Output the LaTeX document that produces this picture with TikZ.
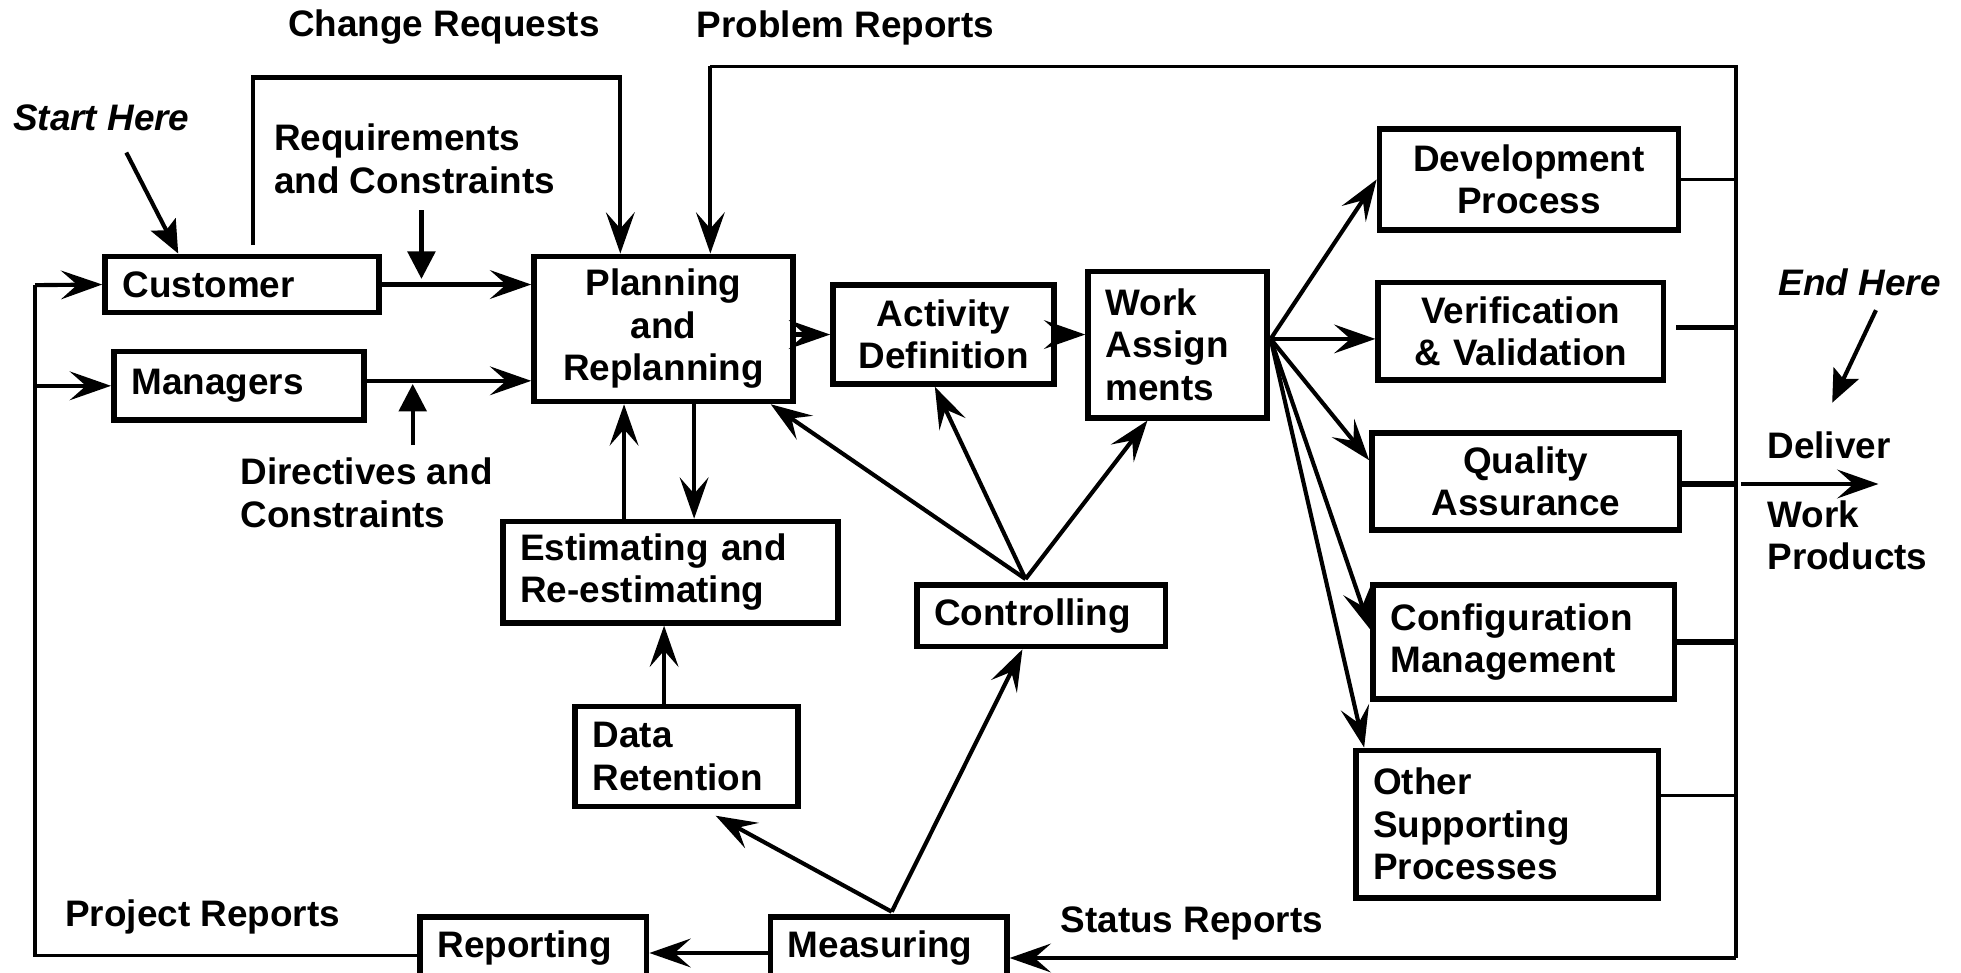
\documentclass[tikz,border=0pt]{standalone}
\usepackage{fontspec}
\setmainfont{Liberation Sans}
\usetikzlibrary{arrows.meta}
\begin{document}
\begin{tikzpicture}[x=1pt,y=-1pt,
  txt/.style={font=\bfseries\fontsize{29.5}{34}\selectfont},
  box/.style={txt, draw, line width=4.5pt, inner sep=0pt, fill=white},
  lbl/.style={txt, inner sep=0pt, align=left},
  conn/.style={line width=3.3pt},
  bus/.style={line width=2.6pt},
  arr/.style={conn, -{Stealth[length=33pt,width=23pt,inset=13pt]}},
  sarr/.style={conn, -{Stealth[length=26pt,width=22pt,inset=5pt]}},
  tarr/.style={conn, -{Triangle[length=22pt,width=22pt]}},
]
\useasboundingbox (0,0) rectangle (1568,778);
\fill[white] (0,0) rectangle (1568,778);

% boxes
\node[box, minimum width=219pt, minimum height=45pt, text width=191pt, align=left] (cust) at (193.5,227.5) {Customer};
\node[box, minimum width=200pt, minimum height=55pt, text width=172pt, align=left] (mgr) at (191,308.5) {Managers};
\node[box, minimum width=207pt, minimum height=116pt, text width=207pt, align=center] (plan) at (530.5,263) {Planning\\and\\Replanning};
\node[box, minimum width=177pt, minimum height=79pt, text width=177pt, align=center] (act) at (754.5,267.5) {Activity\\Definition};
\node[box, minimum width=143pt, minimum height=117pt, text width=115pt, align=left] (work) at (941.5,275.5) {Work\\Assign\\ments};
\node[box, minimum width=268pt, minimum height=81pt, text width=240pt, align=left] (est) at (536,457.5) {Estimating and\\Re-estimating};
\node[box, minimum width=178pt, minimum height=80pt, text width=150pt, align=left] (dat) at (549,605) {Data\\Retention};
\node[box, minimum width=199pt, minimum height=49pt, text width=171pt, align=left] (ctl) at (832.5,492.5) {Controlling};
\node[box, minimum width=181pt, minimum height=50pt, text width=153pt, align=left] (rep) at (426.5,758) {Reporting};
\node[box, minimum width=189pt, minimum height=50pt, text width=161pt, align=left] (meas) at (710.5,758) {Measuring};
\node[box, minimum width=239pt, minimum height=81pt, text width=239pt, align=center] (dev) at (1222.5,143.5) {Development\\Process};
\node[box, minimum width=228pt, minimum height=78pt, text width=228pt, align=center] (vv) at (1216,265) {Verification\\\& Validation};
\node[box, minimum width=246pt, minimum height=78pt, text width=246pt, align=center] (qa) at (1220,385) {Quality\\Assurance};
\node[box, minimum width=241pt, minimum height=91pt, text width=213pt, align=left] (cm) at (1218.5,513.5) {Configuration\\Management};
\node[box, minimum width=242pt, minimum height=118pt, text width=214pt, align=left] (oth) at (1205,659) {Other\\Supporting\\Processes};

% labels
\node[lbl] (lchg) at (355,22) {Change Requests};
\node[lbl] (lprb) at (676,22) {Problem Reports};
\node[lbl, font=\bfseries\itshape\fontsize{29.5}{34}\selectfont] (lstart) at (81,94) {Start Here};
\node[lbl, anchor=west] (lreq) at (219,127) {Requirements\\and Constraints};
\node[lbl, anchor=west] (ldir) at (192,394) {Directives and\\Constraints};
\node[lbl, font=\bfseries\itshape\fontsize{29.5}{34}\selectfont] (lend) at (1487,226) {End Here};
\node[lbl, anchor=west] (ldel) at (1413,356) {Deliver};
\node[lbl, anchor=west] (lwp) at (1413,428) {Work\\Products};
\node[lbl] (lproj) at (162,733) {Project Reports};
\node[lbl] (lstat) at (953,738) {Status Reports};

% coordinates
\coordinate (rbTop) at (1388,53);
\coordinate (rbBot) at (1388,766);
\coordinate (lb) at (28,228);
\coordinate (crS) at (202,196);
\coordinate (cr2) at (496,62);
\coordinate (pr) at (568,53);
\coordinate (rq1) at (337,168);
\coordinate (rq2) at (337,223);
\coordinate (dr1) at (330,356);
\coordinate (dr2) at (330,307);
\coordinate (sh) at (101,122);
\coordinate (eh1) at (1500,248);
\coordinate (eh2) at (1465,322);
\coordinate (dl1) at (1392,387);
\coordinate (dl2) at (1502,387);
\coordinate (wf) at (1016,271);
\coordinate (eu) at (499,0);
\coordinate (ed) at (555,0);
\coordinate (du) at (531,0);
\coordinate (cf) at (820,463);
\coordinate (mf) at (713,729);

% customer / managers inputs
\draw[arr] (cust.east) -- (cust.east -| plan.west);
\draw[arr] ([yshift=4pt]mgr.east) -- ([yshift=4pt]mgr.east -| plan.west);
\draw[tarr] (rq1) -- (rq2);
\draw[tarr] (dr1) -- (dr2);
\draw[sarr] (sh) -- ([xshift=-51pt]cust.north);
\draw[arr] (crS) |- (cr2) -- (cr2 |- plan.north);

% right bus
\draw[bus] (pr) -- (rbTop) -- (rbBot);
\draw[arr] (pr) -- (pr |- plan.north);
\draw[arr] (rbBot) -- (rbBot -| meas.east);
\draw[bus] (dev.east) -- (dev.east -| rbTop);
\draw[line width=4.5pt] ([xshift=8pt,yshift=3pt]vv.east) -- ([yshift=3pt]vv.east -| rbTop);
\draw[line width=4.5pt] ([yshift=-2pt]qa.east) -- ([yshift=-2pt]qa.east -| rbTop);
\draw[line width=4.5pt] (cm.east) -- (cm.east -| rbTop);
\draw[bus] ([yshift=23pt]oth.east) -- ([yshift=23pt]oth.east -| rbTop);
\draw[arr] (dl1) -- (dl2);
\draw[sarr] (eh1) -- (eh2);

% left bus
\draw[bus] ([yshift=-6pt]rep.west) -| (lb);
\draw[arr] (lb) -- (cust.west);
\draw[arr] (lb |- mgr.west) -- (mgr.west);
\draw[arr] ([yshift=-4pt]meas.west) -- ([yshift=-4pt]rep.east);

% main flow
\draw[arr] (act.west -| plan.east) -- (act.west);
\draw[arr] (act.east) -- (act.east -| work.west);
\draw[arr] (wf) -- (dev.west);
\draw[arr] (wf) -- (wf -| vv.west);
\draw[arr] (wf) -- ([yshift=17pt]qa.west);
\draw[arr] (wf) -- ([yshift=10pt]cm.west);
\draw[arr] (wf) -- ([xshift=9pt]oth.north west);

% estimating
\draw[arr] (eu |- est.north) -- (eu |- plan.south);
\draw[arr] (ed |- plan.south) -- (ed |- est.north);
\draw[arr] (du |- dat.north) -- (du |- est.south);

% controlling
\draw[arr] (cf) -- ([xshift=-20pt]plan.south east);
\draw[arr] (cf) -- ([xshift=-7pt]act.south);
\draw[arr] (cf) -- ([xshift=-24pt]work.south);

% measuring
\draw[arr] (mf) -- ([xshift=-15pt]ctl.south);
\draw[arr] (mf) -- ([xshift=-68pt,yshift=-5pt]dat.south east);
\end{tikzpicture}
\end{document}
